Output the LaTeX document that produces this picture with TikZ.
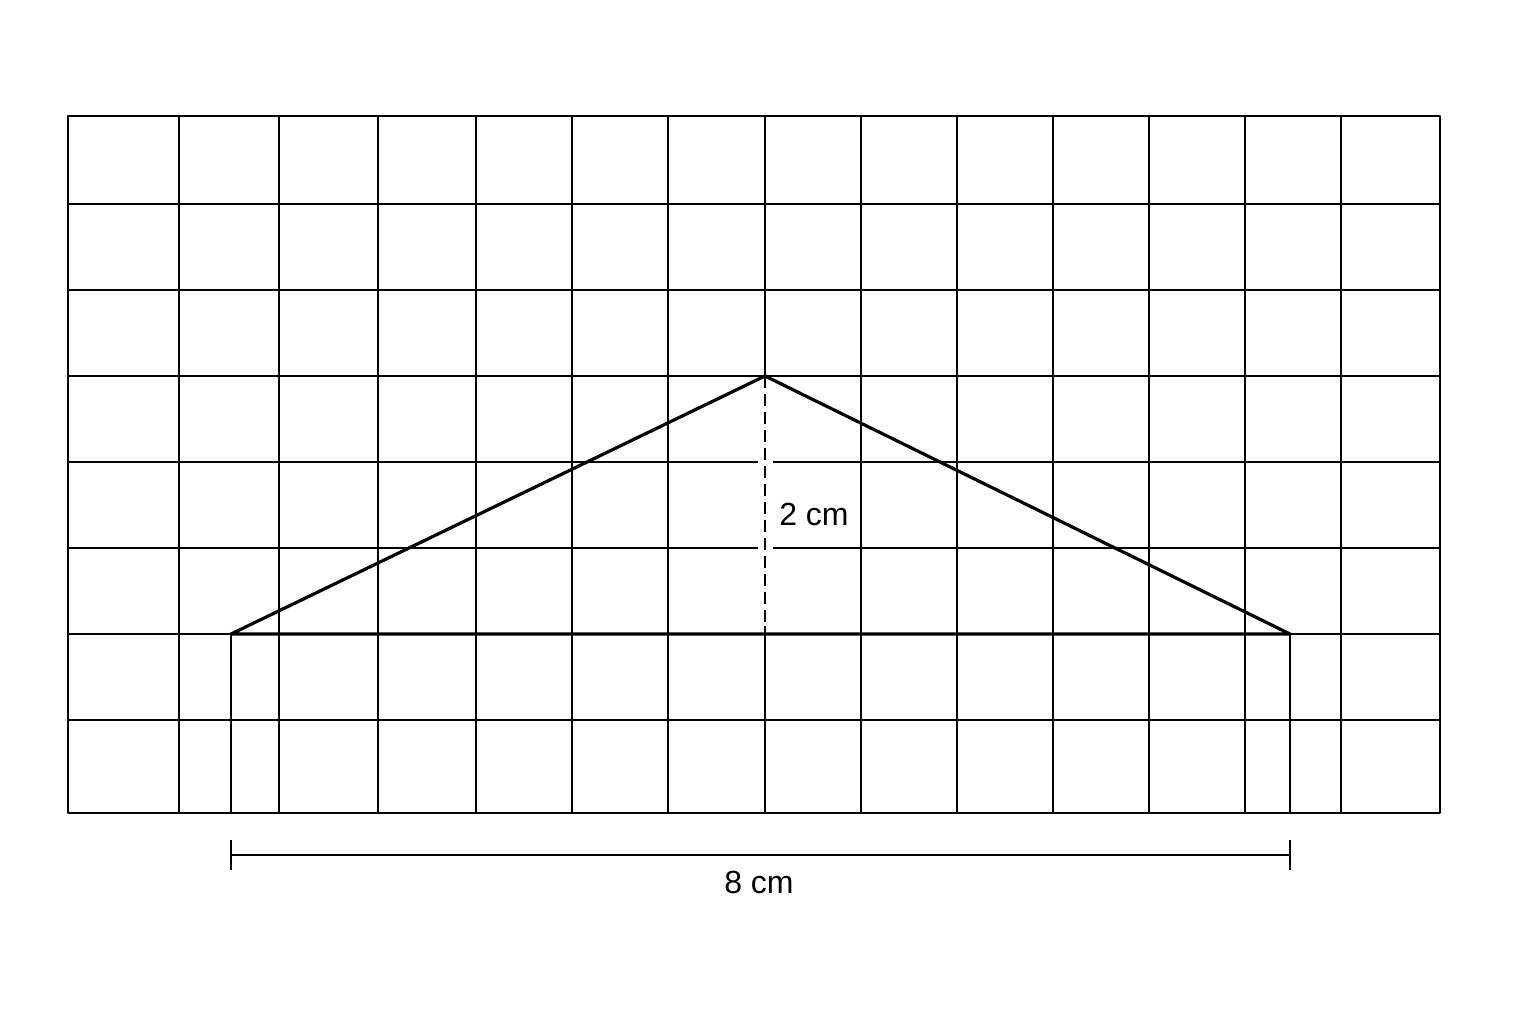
\documentclass[tikz,border=0pt]{standalone}
\usepackage{fontspec}
\setmainfont{Liberation Sans}
\begin{document}
	\begin{tikzpicture}[x=0.5pt,y=-0.5pt,line join=round]
		\useasboundingbox(0,0)rectangle(1536,1024);
		\pgfmathsetmacro{\top}{116}
		\pgfmathsetmacro{\bot}{813}
		\def\PlotGrid{
			\foreach \x in {179,279,378,476,572,668,765,861,957,1053,1149,1245,1341}{
				\draw(\x,\top)--(\x,\bot);
			}
			\foreach \y in {204,290,376,462,548,634,720}{
				\draw(68,\y)--(1440,\y);
			}
		}
		\begin{scope}[line width=1pt]
			\PlotGrid
			\draw[line width=1.3pt](68,\top)rectangle(1440,\bot);
		\end{scope}
		\coordinate(A)at(231,634);
		\coordinate(B)at(1290,634);
		\coordinate(C)at(765,376);
		\coordinate(H)at(765,634);
		\draw[line width=1pt](A)--(231,\bot)(B)--(1290,\bot);
		\draw[white,line width=7.5pt]([yshift=-4pt]C)--([yshift=4pt]H);
		\draw[line width=1.1pt,dash pattern=on 6pt off 3pt](C)--(H);
		\draw[line width=1.6pt](A)--(C)--(B)--cycle;
		\node[font=\fontsize{16}{18}\selectfont](h)at(814,514){2 cm};
		\coordinate(L)at(231,855);
		\coordinate(R)at(1290,855);
		\draw[line width=1pt](L)--(R);
		\draw[line width=1pt]([yshift=7.5pt]L)--([yshift=-7.5pt]L)
			([yshift=7.5pt]R)--([yshift=-7.5pt]R);
		\node[font=\fontsize{16}{18}\selectfont](b)at(759,882){8 cm};
	\end{tikzpicture}
\end{document}
